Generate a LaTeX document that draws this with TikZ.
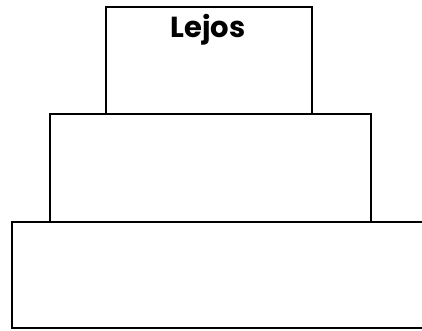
\documentclass[tikz,border=0pt]{standalone}
\usepackage{fontspec}
\setmainfont{Poppins}
\usepackage{tikz}
\usetikzlibrary{positioning}

\begin{document}
\begin{tikzpicture}[
  x=1pt, y=-1pt,
  tier/.style={draw=black, line width=2pt, fill=none, inner sep=0pt, outer sep=0pt},
  tiertext/.style={font=\fontsize{29}{32}\selectfont\bfseries, anchor=base}
]
\useasboundingbox (0,0) rectangle (422,330);
\clip (0,0) rectangle (422,330);

% three stacked tiers
\node[tier, minimum width=206pt, minimum height=107pt] (top) at (209,60.5) {};
\node[tier, minimum width=321pt, minimum height=108pt] (middle) at (210.5,168) {};
\node[tier, minimum width=412pt, minimum height=106pt] (base) at (218,275) {};

\node[tiertext] (lejos) at (208,37) {Lejos};
\end{tikzpicture}
\end{document}
